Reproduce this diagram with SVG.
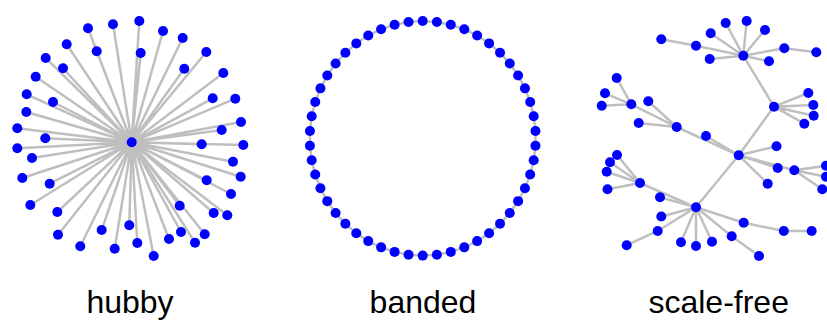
<svg xmlns="http://www.w3.org/2000/svg" width="827" height="321" viewBox="0 0 827 321">
<style>
.e{stroke:#bfbfbf;stroke-width:2.5;fill:none;stroke-linecap:round}
.n circle{fill:#0000ff}
.t{font-family:"Liberation Sans",Arial,sans-serif;font-size:32px;fill:#000;text-anchor:middle}
</style>
<rect width="827" height="321" fill="#fff"/>
<g id="connectors">
<g id="hubby-edges" class="e">
<path d="M131.7 142.3L88 28.3M131.7 142.3L113 24.3M131.7 142.3L139.3 21M131.7 142.3L163 31M131.7 142.3L182.7 38M131.7 142.3L206.3 52M131.7 142.3L223.3 73M131.7 142.3L235.3 98.7M131.7 142.3L241 122M131.7 142.3L243.3 145M131.7 142.3L240.7 176.7M131.7 142.3L233 161.7M131.7 142.3L231 194M131.7 142.3L227.3 215.3M131.7 142.3L213.7 213M131.7 142.3L204.7 234.3M131.7 142.3L195 242.7M131.7 142.3L181 232M131.7 142.3L179.7 205.7M131.7 142.3L169 239M131.7 142.3L153.7 256M131.7 142.3L137.3 243M131.7 142.3L129.3 225.3M131.7 142.3L114.7 248.7M131.7 142.3L101.7 230M131.7 142.3L80.3 246.3M131.7 142.3L58 234.7M131.7 142.3L57.3 212M131.7 142.3L30.3 205M131.7 142.3L49.7 183.7M131.7 142.3L22.3 178M131.7 142.3L32 158M131.7 142.3L17.3 148.3M131.7 142.3L45.3 138.3M131.7 142.3L17.3 128.3M131.7 142.3L26.3 112M131.7 142.3L53 102M131.7 142.3L26.7 94.3M131.7 142.3L35.7 76.7M131.7 142.3L63 68.3M131.7 142.3L45.7 58M131.7 142.3L66.7 44.3M131.7 142.3L96.7 51.3M131.7 142.3L140.7 53M131.7 142.3L184.3 68.7M131.7 142.3L212.7 98.3M131.7 142.3L221.7 130M131.7 142.3L201.7 144.3M131.7 142.3L206.7 180.3"/>
</g>
<g id="banded-edges" class="e">
<polygon points="422.7,21 436.86,21.93 450.8,24.69 464.3,29.24 477.14,35.51 489.12,43.4 500.05,52.79 509.77,63.53 518.11,75.45 524.95,88.36 530.17,102.05 533.7,116.32 535.48,130.93 535.48,145.67 533.7,160.28 530.17,174.55 524.95,188.24 518.11,201.15 509.77,213.07 500.05,223.81 489.12,233.2 477.14,241.09 464.3,247.36 450.8,251.91 436.86,254.67 422.7,255.6 408.54,254.67 394.6,251.91 381.1,247.36 368.26,241.09 356.28,233.2 345.35,223.81 335.63,213.07 327.29,201.15 320.45,188.24 315.23,174.55 311.7,160.28 309.92,145.67 309.92,130.93 311.7,116.32 315.23,102.05 320.45,88.36 327.29,75.45 335.63,63.53 345.35,52.79 356.28,43.4 368.26,35.51 381.1,29.24 394.6,24.69 408.54,21.93"/>
</g>
<g id="scalefree-edges" class="e">
<path d="M661.3 39.3L696 45.7L743.3 55.7M710.7 33.3L743.3 55.7M725.7 23L743.3 55.7M746.7 21L743.3 55.7M765 30L743.3 55.7M709.7 59L743.3 55.7M769 61.3L743.3 55.7M816.3 52.3L784.3 48.3L743.3 55.7M743.3 55.7L774 106.7L738.7 155.3M774 106.7L808.3 93M774 106.7L813.3 105M774 106.7L813.7 115.7M774 106.7L804.3 123.7M738.7 155.3L776.5 146.2M738.7 155.3L777.7 168M738.7 155.3L767.7 183.7M738.7 155.3L794.3 170.3M794.3 170.3L826 165.7M794.3 170.3L826 176.7M794.3 170.3L822.3 189.3M738.7 155.3L676.7 127M738.7 155.3L706 136M676.7 127L631.3 104.3M631.3 104.3L616.7 78M631.3 104.3L605 93.3M631.3 104.3L601.7 105.7M676.7 127L648.3 101.3M676.7 127L638.7 123M738.7 155.3L696 207.3M696 207.3L640 183M640 183L617 155M640 183L610 162.3M640 183L606.7 171.7M640 183L607.5 189.3M696 207.3L660 197.3M696 207.3L661.3 216.5M696 207.3L657.7 231L626.7 245.2M696 207.3L681 242.2M696 207.3L696 246M696 207.3L712 241.7M696 207.3L731.7 236.3L759 256M696 207.3L743.7 222.7L783.8 231L811.7 231"/>
</g>
</g>
<g id="hubby-nodes" class="n">
<g id="h0"><circle cx="131.7" cy="142.3" r="5"/></g>
<g id="h1"><circle cx="88" cy="28.3" r="5"/></g>
<g id="h2"><circle cx="113" cy="24.3" r="5"/></g>
<g id="h3"><circle cx="139.3" cy="21" r="5"/></g>
<g id="h4"><circle cx="163" cy="31" r="5"/></g>
<g id="h5"><circle cx="182.7" cy="38" r="5"/></g>
<g id="h6"><circle cx="206.3" cy="52" r="5"/></g>
<g id="h7"><circle cx="223.3" cy="73" r="5"/></g>
<g id="h8"><circle cx="235.3" cy="98.7" r="5"/></g>
<g id="h9"><circle cx="241" cy="122" r="5"/></g>
<g id="h10"><circle cx="243.3" cy="145" r="5"/></g>
<g id="h11"><circle cx="240.7" cy="176.7" r="5"/></g>
<g id="h12"><circle cx="233" cy="161.7" r="5"/></g>
<g id="h13"><circle cx="231" cy="194" r="5"/></g>
<g id="h14"><circle cx="227.3" cy="215.3" r="5"/></g>
<g id="h15"><circle cx="213.7" cy="213" r="5"/></g>
<g id="h16"><circle cx="204.7" cy="234.3" r="5"/></g>
<g id="h17"><circle cx="195" cy="242.7" r="5"/></g>
<g id="h18"><circle cx="181" cy="232" r="5"/></g>
<g id="h19"><circle cx="179.7" cy="205.7" r="5"/></g>
<g id="h20"><circle cx="169" cy="239" r="5"/></g>
<g id="h21"><circle cx="153.7" cy="256" r="5"/></g>
<g id="h22"><circle cx="137.3" cy="243" r="5"/></g>
<g id="h23"><circle cx="129.3" cy="225.3" r="5"/></g>
<g id="h24"><circle cx="114.7" cy="248.7" r="5"/></g>
<g id="h25"><circle cx="101.7" cy="230" r="5"/></g>
<g id="h26"><circle cx="80.3" cy="246.3" r="5"/></g>
<g id="h27"><circle cx="58" cy="234.7" r="5"/></g>
<g id="h28"><circle cx="57.3" cy="212" r="5"/></g>
<g id="h29"><circle cx="30.3" cy="205" r="5"/></g>
<g id="h30"><circle cx="49.7" cy="183.7" r="5"/></g>
<g id="h31"><circle cx="22.3" cy="178" r="5"/></g>
<g id="h32"><circle cx="32" cy="158" r="5"/></g>
<g id="h33"><circle cx="17.3" cy="148.3" r="5"/></g>
<g id="h34"><circle cx="45.3" cy="138.3" r="5"/></g>
<g id="h35"><circle cx="17.3" cy="128.3" r="5"/></g>
<g id="h36"><circle cx="26.3" cy="112" r="5"/></g>
<g id="h37"><circle cx="53" cy="102" r="5"/></g>
<g id="h38"><circle cx="26.7" cy="94.3" r="5"/></g>
<g id="h39"><circle cx="35.7" cy="76.7" r="5"/></g>
<g id="h40"><circle cx="63" cy="68.3" r="5"/></g>
<g id="h41"><circle cx="45.7" cy="58" r="5"/></g>
<g id="h42"><circle cx="66.7" cy="44.3" r="5"/></g>
<g id="h43"><circle cx="96.7" cy="51.3" r="5"/></g>
<g id="h44"><circle cx="140.7" cy="53" r="5"/></g>
<g id="h45"><circle cx="184.3" cy="68.7" r="5"/></g>
<g id="h46"><circle cx="212.7" cy="98.3" r="5"/></g>
<g id="h47"><circle cx="221.7" cy="130" r="5"/></g>
<g id="h48"><circle cx="201.7" cy="144.3" r="5"/></g>
<g id="h49"><circle cx="206.7" cy="180.3" r="5"/></g>
</g>
<g id="banded-nodes" class="n">
<g id="b0"><circle cx="422.7" cy="21" r="5"/></g>
<g id="b1"><circle cx="436.86" cy="21.93" r="5"/></g>
<g id="b2"><circle cx="450.8" cy="24.69" r="5"/></g>
<g id="b3"><circle cx="464.3" cy="29.24" r="5"/></g>
<g id="b4"><circle cx="477.14" cy="35.51" r="5"/></g>
<g id="b5"><circle cx="489.12" cy="43.4" r="5"/></g>
<g id="b6"><circle cx="500.05" cy="52.79" r="5"/></g>
<g id="b7"><circle cx="509.77" cy="63.53" r="5"/></g>
<g id="b8"><circle cx="518.11" cy="75.45" r="5"/></g>
<g id="b9"><circle cx="524.95" cy="88.36" r="5"/></g>
<g id="b10"><circle cx="530.17" cy="102.05" r="5"/></g>
<g id="b11"><circle cx="533.7" cy="116.32" r="5"/></g>
<g id="b12"><circle cx="535.48" cy="130.93" r="5"/></g>
<g id="b13"><circle cx="535.48" cy="145.67" r="5"/></g>
<g id="b14"><circle cx="533.7" cy="160.28" r="5"/></g>
<g id="b15"><circle cx="530.17" cy="174.55" r="5"/></g>
<g id="b16"><circle cx="524.95" cy="188.24" r="5"/></g>
<g id="b17"><circle cx="518.11" cy="201.15" r="5"/></g>
<g id="b18"><circle cx="509.77" cy="213.07" r="5"/></g>
<g id="b19"><circle cx="500.05" cy="223.81" r="5"/></g>
<g id="b20"><circle cx="489.12" cy="233.2" r="5"/></g>
<g id="b21"><circle cx="477.14" cy="241.09" r="5"/></g>
<g id="b22"><circle cx="464.3" cy="247.36" r="5"/></g>
<g id="b23"><circle cx="450.8" cy="251.91" r="5"/></g>
<g id="b24"><circle cx="436.86" cy="254.67" r="5"/></g>
<g id="b25"><circle cx="422.7" cy="255.6" r="5"/></g>
<g id="b26"><circle cx="408.54" cy="254.67" r="5"/></g>
<g id="b27"><circle cx="394.6" cy="251.91" r="5"/></g>
<g id="b28"><circle cx="381.1" cy="247.36" r="5"/></g>
<g id="b29"><circle cx="368.26" cy="241.09" r="5"/></g>
<g id="b30"><circle cx="356.28" cy="233.2" r="5"/></g>
<g id="b31"><circle cx="345.35" cy="223.81" r="5"/></g>
<g id="b32"><circle cx="335.63" cy="213.07" r="5"/></g>
<g id="b33"><circle cx="327.29" cy="201.15" r="5"/></g>
<g id="b34"><circle cx="320.45" cy="188.24" r="5"/></g>
<g id="b35"><circle cx="315.23" cy="174.55" r="5"/></g>
<g id="b36"><circle cx="311.7" cy="160.28" r="5"/></g>
<g id="b37"><circle cx="309.92" cy="145.67" r="5"/></g>
<g id="b38"><circle cx="309.92" cy="130.93" r="5"/></g>
<g id="b39"><circle cx="311.7" cy="116.32" r="5"/></g>
<g id="b40"><circle cx="315.23" cy="102.05" r="5"/></g>
<g id="b41"><circle cx="320.45" cy="88.36" r="5"/></g>
<g id="b42"><circle cx="327.29" cy="75.45" r="5"/></g>
<g id="b43"><circle cx="335.63" cy="63.53" r="5"/></g>
<g id="b44"><circle cx="345.35" cy="52.79" r="5"/></g>
<g id="b45"><circle cx="356.28" cy="43.4" r="5"/></g>
<g id="b46"><circle cx="368.26" cy="35.51" r="5"/></g>
<g id="b47"><circle cx="381.1" cy="29.24" r="5"/></g>
<g id="b48"><circle cx="394.6" cy="24.69" r="5"/></g>
<g id="b49"><circle cx="408.54" cy="21.93" r="5"/></g>
</g>
<g id="scalefree-nodes" class="n">
<g id="s0"><circle cx="743.3" cy="55.7" r="5"/></g>
<g id="s1"><circle cx="661.3" cy="39.3" r="5"/></g>
<g id="s2"><circle cx="696" cy="45.7" r="5"/></g>
<g id="s3"><circle cx="710.7" cy="33.3" r="5"/></g>
<g id="s4"><circle cx="725.7" cy="23" r="5"/></g>
<g id="s5"><circle cx="746.7" cy="21" r="5"/></g>
<g id="s6"><circle cx="765" cy="30" r="5"/></g>
<g id="s7"><circle cx="709.7" cy="59" r="5"/></g>
<g id="s8"><circle cx="769" cy="61.3" r="5"/></g>
<g id="s9"><circle cx="784.3" cy="48.3" r="5"/></g>
<g id="s10"><circle cx="816.3" cy="52.3" r="5"/></g>
<g id="s11"><circle cx="774" cy="106.7" r="5"/></g>
<g id="s12"><circle cx="808.3" cy="93" r="5"/></g>
<g id="s13"><circle cx="813.3" cy="105" r="5"/></g>
<g id="s14"><circle cx="813.7" cy="115.7" r="5"/></g>
<g id="s15"><circle cx="804.3" cy="123.7" r="5"/></g>
<g id="s16"><circle cx="738.7" cy="155.3" r="5"/></g>
<g id="s17"><circle cx="776.5" cy="146.2" r="5"/></g>
<g id="s18"><circle cx="777.7" cy="168" r="5"/></g>
<g id="s19"><circle cx="767.7" cy="183.7" r="5"/></g>
<g id="s20"><circle cx="794.3" cy="170.3" r="5"/></g>
<g id="s21"><circle cx="826" cy="165.7" r="5"/></g>
<g id="s22"><circle cx="826" cy="176.7" r="5"/></g>
<g id="s23"><circle cx="822.3" cy="189.3" r="5"/></g>
<g id="s24"><circle cx="676.7" cy="127" r="5"/></g>
<g id="s25"><circle cx="706" cy="136" r="5"/></g>
<g id="s26"><circle cx="631.3" cy="104.3" r="5"/></g>
<g id="s27"><circle cx="616.7" cy="78" r="5"/></g>
<g id="s28"><circle cx="605" cy="93.3" r="5"/></g>
<g id="s29"><circle cx="601.7" cy="105.7" r="5"/></g>
<g id="s30"><circle cx="648.3" cy="101.3" r="5"/></g>
<g id="s31"><circle cx="638.7" cy="123" r="5"/></g>
<g id="s32"><circle cx="696" cy="207.3" r="5"/></g>
<g id="s33"><circle cx="640" cy="183" r="5"/></g>
<g id="s34"><circle cx="617" cy="155" r="5"/></g>
<g id="s35"><circle cx="610" cy="162.3" r="5"/></g>
<g id="s36"><circle cx="606.7" cy="171.7" r="5"/></g>
<g id="s37"><circle cx="607.5" cy="189.3" r="5"/></g>
<g id="s38"><circle cx="660" cy="197.3" r="5"/></g>
<g id="s39"><circle cx="661.3" cy="216.5" r="5"/></g>
<g id="s40"><circle cx="657.7" cy="231" r="5"/></g>
<g id="s41"><circle cx="626.7" cy="245.2" r="5"/></g>
<g id="s42"><circle cx="681" cy="242.2" r="5"/></g>
<g id="s43"><circle cx="696" cy="246" r="5"/></g>
<g id="s44"><circle cx="712" cy="241.7" r="5"/></g>
<g id="s45"><circle cx="731.7" cy="236.3" r="5"/></g>
<g id="s46"><circle cx="759" cy="256" r="5"/></g>
<g id="s47"><circle cx="743.7" cy="222.7" r="5"/></g>
<g id="s48"><circle cx="783.8" cy="231" r="5"/></g>
<g id="s49"><circle cx="811.7" cy="231" r="5"/></g>
</g>
<g id="labels">
<text class="t" x="130" y="313">hubby</text>
<text class="t" x="423" y="313">banded</text>
<text class="t" x="718.7" y="313">scale-free</text>
</g>
</svg>
